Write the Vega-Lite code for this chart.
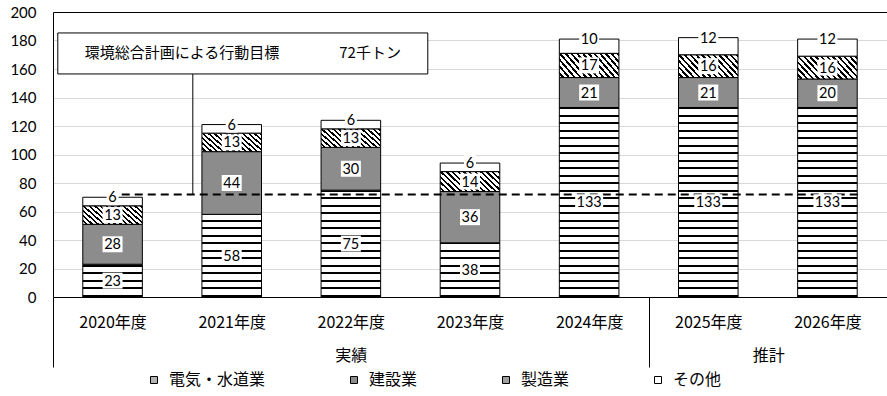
{
  "$schema": "https://vega.github.io/schema/vega-lite/v6.json",
  "width": 834,
  "height": 285,
  "autosize": "none",
  "padding": {"left": 53, "top": 12, "right": 0, "bottom": 99},
  "background": "white",
  "config": {
    "view": {"stroke": null},
    "axisX": {"labelOverlap": false},
    "axisY": {"labelOverlap": false, "domainColor": "#000", "ticks": false, "labelPadding": 17, "labelFont": "Lato", "labelFontSize": 15, "labelColor": "#000", "grid": true, "gridWidth": 1, "tickCount": 12}
  },
  "datasets": {
    "rows": [
      {"year": "2020年度", "cat": "電気・水道業", "v": 23},
      {"year": "2020年度", "cat": "建設業", "v": 28},
      {"year": "2020年度", "cat": "製造業", "v": 13},
      {"year": "2020年度", "cat": "その他", "v": 6},
      {"year": "2021年度", "cat": "電気・水道業", "v": 58},
      {"year": "2021年度", "cat": "建設業", "v": 44},
      {"year": "2021年度", "cat": "製造業", "v": 13},
      {"year": "2021年度", "cat": "その他", "v": 6},
      {"year": "2022年度", "cat": "電気・水道業", "v": 75},
      {"year": "2022年度", "cat": "建設業", "v": 30},
      {"year": "2022年度", "cat": "製造業", "v": 13},
      {"year": "2022年度", "cat": "その他", "v": 6},
      {"year": "2023年度", "cat": "電気・水道業", "v": 38},
      {"year": "2023年度", "cat": "建設業", "v": 36},
      {"year": "2023年度", "cat": "製造業", "v": 14},
      {"year": "2023年度", "cat": "その他", "v": 6},
      {"year": "2024年度", "cat": "電気・水道業", "v": 133},
      {"year": "2024年度", "cat": "建設業", "v": 21},
      {"year": "2024年度", "cat": "製造業", "v": 17},
      {"year": "2024年度", "cat": "その他", "v": 10},
      {"year": "2025年度", "cat": "電気・水道業", "v": 133},
      {"year": "2025年度", "cat": "建設業", "v": 21},
      {"year": "2025年度", "cat": "製造業", "v": 16},
      {"year": "2025年度", "cat": "その他", "v": 12},
      {"year": "2026年度", "cat": "電気・水道業", "v": 133},
      {"year": "2026年度", "cat": "建設業", "v": 20},
      {"year": "2026年度", "cat": "製造業", "v": 16},
      {"year": "2026年度", "cat": "その他", "v": 12}
    ]
  },
  "layer": [
    {
      "data": {"name": "rows"},
      "transform": [
        {"calculate": "indexof(['電気・水道業','建設業','製造業','その他'], datum.cat)", "as": "o"},
        {"stack": "v", "groupby": ["year"], "sort": [{"field": "o", "order": "ascending"}], "as": ["v0", "v1"]}
      ],
      "mark": {"type": "bar", "stroke": "#000", "strokeWidth": 1},
      "encoding": {
        "x": {
          "field": "year", "type": "nominal", "sort": null,
          "scale": {"domain": ["2020年度", "2021年度", "2022年度", "2023年度", "2024年度", "2025年度", "2026年度"], "paddingInner": 0.5, "paddingOuter": 0.25},
          "axis": {
            "title": null, "domain": true, "domainColor": "#000", "domainWidth": 1,
            "labelFont": "Noto Sans CJK JP", "labelFontSize": 16, "labelColor": "#000",
            "labelAngle": 0, "labelOverlap": false, "labelFlush": false,
            "labelExpr": "datum.label == '2022年度' ? ['2022年度','実績'] : datum.label == '2025年度' ? ['2025年度','\u200b\u3000\u3000\u3000\u3000\u3000\u3000\u3000\u2002推計'] : datum.label",
            "labelLineHeight": 33, "labelBaseline": "top", "labelPadding": -53,
            "ticks": true, "tickSize": 70, "tickColor": "#000", "tickWidth": 1, "tickOffset": -59.57, "labelOffset": 59.57,
            "tickOpacity": {"condition": {"test": "datum.value == '2020年度' || datum.value == '2025年度'", "value": 1}, "value": 0},
            "grid": false
          }
        },
        "y": {
          "field": "v1", "type": "quantitative",
          "scale": {"domain": [0, 200], "nice": false},
          "axis": {
            "title": null, "values": [0, 20, 40, 60, 80, 100, 120, 140, 160, 180, 200], "tickCount": 12,
            "domain": true, "domainColor": "#000", "domainWidth": 1, "ticks": false, "labelOverlap": false,
            "labelPadding": 17, "labelFont": "Lato", "labelFontSize": 15, "labelColor": "#000",
            "grid": true, "gridWidth": 1,
            "gridColor": {"condition": {"test": "datum.value == 200", "value": "#000"}, "value": "#d9d9d9"}
          }
        },
        "y2": {"field": "v0"},
        "fill": {
          "field": "cat", "type": "nominal",
          "scale": {"domain": ["電気・水道業", "建設業", "製造業", "その他"], "range": ["#b4b4b4", "#8c8c8c", "#a0a0a0", "#ffffff"]},
          "legend": {
            "orient": "none", "legendX": 93, "legendY": 360, "direction": "horizontal", "columns": 4,
            "columnPadding": 80, "title": null, "symbolType": "square", "symbolSize": 49,
            "symbolStrokeColor": "#000", "symbolStrokeWidth": 1, "labelFont": "Noto Sans CJK JP",
            "labelFontSize": 16, "labelColor": "#000", "labelOffset": 7, "padding": 0, "labelLimit": 200
          },
          "condition": [
            {"test": "datum.cat == '電気・水道業' && datum.v == 23", "value": {"gradient": "linear", "x1": 0, "y1": 1, "x2": 0, "y2": 0, "stops": [
              {"offset": 0, "color": "#000"}, {"offset": 0.061, "color": "#000"}, {"offset": 0.061, "color": "#fff"}, {"offset": 0.2441, "color": "#fff"},
              {"offset": 0.2441, "color": "#000"}, {"offset": 0.3051, "color": "#000"}, {"offset": 0.3051, "color": "#fff"}, {"offset": 0.4577, "color": "#fff"},
              {"offset": 0.4577, "color": "#000"}, {"offset": 0.5187, "color": "#000"}, {"offset": 0.5187, "color": "#fff"}, {"offset": 0.7018, "color": "#fff"},
              {"offset": 0.7018, "color": "#000"}, {"offset": 0.7628, "color": "#000"}, {"offset": 0.7628, "color": "#fff"}, {"offset": 0.9153, "color": "#fff"},
              {"offset": 0.9153, "color": "#000"}, {"offset": 0.9764, "color": "#000"}, {"offset": 0.9764, "color": "#fff"}, {"offset": 1, "color": "#fff"}
            ]}},
            {"test": "datum.cat == '電気・水道業' && datum.v == 38", "value": {"gradient": "linear", "x1": 0, "y1": 1, "x2": 0, "y2": 0, "stops": [
              {"offset": 0, "color": "#000"}, {"offset": 0.0369, "color": "#000"}, {"offset": 0.0369, "color": "#fff"}, {"offset": 0.1477, "color": "#fff"},
              {"offset": 0.1477, "color": "#000"}, {"offset": 0.1847, "color": "#000"}, {"offset": 0.1847, "color": "#fff"}, {"offset": 0.277, "color": "#fff"},
              {"offset": 0.277, "color": "#000"}, {"offset": 0.3139, "color": "#000"}, {"offset": 0.3139, "color": "#fff"}, {"offset": 0.4247, "color": "#fff"},
              {"offset": 0.4247, "color": "#000"}, {"offset": 0.4617, "color": "#000"}, {"offset": 0.4617, "color": "#fff"}, {"offset": 0.554, "color": "#fff"},
              {"offset": 0.554, "color": "#000"}, {"offset": 0.591, "color": "#000"}, {"offset": 0.591, "color": "#fff"}, {"offset": 0.7018, "color": "#fff"},
              {"offset": 0.7018, "color": "#000"}, {"offset": 0.7387, "color": "#000"}, {"offset": 0.7387, "color": "#fff"}, {"offset": 0.831, "color": "#fff"},
              {"offset": 0.831, "color": "#000"}, {"offset": 0.868, "color": "#000"}, {"offset": 0.868, "color": "#fff"}, {"offset": 0.9788, "color": "#fff"},
              {"offset": 0.9788, "color": "#000"}, {"offset": 1, "color": "#000"}
            ]}},
            {"test": "datum.cat == '電気・水道業' && datum.v == 58", "value": {"gradient": "linear", "x1": 0, "y1": 1, "x2": 0, "y2": 0, "stops": [
              {"offset": 0, "color": "#000"}, {"offset": 0.0242, "color": "#000"}, {"offset": 0.0242, "color": "#fff"}, {"offset": 0.0968, "color": "#fff"},
              {"offset": 0.0968, "color": "#000"}, {"offset": 0.121, "color": "#000"}, {"offset": 0.121, "color": "#fff"}, {"offset": 0.1815, "color": "#fff"},
              {"offset": 0.1815, "color": "#000"}, {"offset": 0.2057, "color": "#000"}, {"offset": 0.2057, "color": "#fff"}, {"offset": 0.2783, "color": "#fff"},
              {"offset": 0.2783, "color": "#000"}, {"offset": 0.3025, "color": "#000"}, {"offset": 0.3025, "color": "#fff"}, {"offset": 0.363, "color": "#fff"},
              {"offset": 0.363, "color": "#000"}, {"offset": 0.3872, "color": "#000"}, {"offset": 0.3872, "color": "#fff"}, {"offset": 0.4598, "color": "#fff"},
              {"offset": 0.4598, "color": "#000"}, {"offset": 0.484, "color": "#000"}, {"offset": 0.484, "color": "#fff"}, {"offset": 0.5445, "color": "#fff"},
              {"offset": 0.5445, "color": "#000"}, {"offset": 0.5687, "color": "#000"}, {"offset": 0.5687, "color": "#fff"}, {"offset": 0.6413, "color": "#fff"},
              {"offset": 0.6413, "color": "#000"}, {"offset": 0.6655, "color": "#000"}, {"offset": 0.6655, "color": "#fff"}, {"offset": 0.726, "color": "#fff"},
              {"offset": 0.726, "color": "#000"}, {"offset": 0.7502, "color": "#000"}, {"offset": 0.7502, "color": "#fff"}, {"offset": 0.8227, "color": "#fff"},
              {"offset": 0.8227, "color": "#000"}, {"offset": 0.8469, "color": "#000"}, {"offset": 0.8469, "color": "#fff"}, {"offset": 0.9074, "color": "#fff"},
              {"offset": 0.9074, "color": "#000"}, {"offset": 0.9316, "color": "#000"}, {"offset": 0.9316, "color": "#fff"}, {"offset": 1, "color": "#fff"}
            ]}},
            {"test": "datum.cat == '電気・水道業' && datum.v == 75", "value": {"gradient": "linear", "x1": 0, "y1": 1, "x2": 0, "y2": 0, "stops": [
              {"offset": 0, "color": "#000"}, {"offset": 0.0187, "color": "#000"}, {"offset": 0.0187, "color": "#fff"}, {"offset": 0.0749, "color": "#fff"},
              {"offset": 0.0749, "color": "#000"}, {"offset": 0.0936, "color": "#000"}, {"offset": 0.0936, "color": "#fff"}, {"offset": 0.1404, "color": "#fff"},
              {"offset": 0.1404, "color": "#000"}, {"offset": 0.1591, "color": "#000"}, {"offset": 0.1591, "color": "#fff"}, {"offset": 0.2152, "color": "#fff"},
              {"offset": 0.2152, "color": "#000"}, {"offset": 0.2339, "color": "#000"}, {"offset": 0.2339, "color": "#fff"}, {"offset": 0.2807, "color": "#fff"},
              {"offset": 0.2807, "color": "#000"}, {"offset": 0.2994, "color": "#000"}, {"offset": 0.2994, "color": "#fff"}, {"offset": 0.3556, "color": "#fff"},
              {"offset": 0.3556, "color": "#000"}, {"offset": 0.3743, "color": "#000"}, {"offset": 0.3743, "color": "#fff"}, {"offset": 0.4211, "color": "#fff"},
              {"offset": 0.4211, "color": "#000"}, {"offset": 0.4398, "color": "#000"}, {"offset": 0.4398, "color": "#fff"}, {"offset": 0.4959, "color": "#fff"},
              {"offset": 0.4959, "color": "#000"}, {"offset": 0.5146, "color": "#000"}, {"offset": 0.5146, "color": "#fff"}, {"offset": 0.5614, "color": "#fff"},
              {"offset": 0.5614, "color": "#000"}, {"offset": 0.5801, "color": "#000"}, {"offset": 0.5801, "color": "#fff"}, {"offset": 0.6363, "color": "#fff"},
              {"offset": 0.6363, "color": "#000"}, {"offset": 0.655, "color": "#000"}, {"offset": 0.655, "color": "#fff"}, {"offset": 0.7018, "color": "#fff"},
              {"offset": 0.7018, "color": "#000"}, {"offset": 0.7205, "color": "#000"}, {"offset": 0.7205, "color": "#fff"}, {"offset": 0.7766, "color": "#fff"},
              {"offset": 0.7766, "color": "#000"}, {"offset": 0.7953, "color": "#000"}, {"offset": 0.7953, "color": "#fff"}, {"offset": 0.8421, "color": "#fff"},
              {"offset": 0.8421, "color": "#000"}, {"offset": 0.8608, "color": "#000"}, {"offset": 0.8608, "color": "#fff"}, {"offset": 0.917, "color": "#fff"},
              {"offset": 0.917, "color": "#000"}, {"offset": 0.9357, "color": "#000"}, {"offset": 0.9357, "color": "#fff"}, {"offset": 0.9825, "color": "#fff"},
              {"offset": 0.9825, "color": "#000"}, {"offset": 1, "color": "#000"}
            ]}},
            {"test": "datum.cat == '電気・水道業' && datum.v == 133", "value": {"gradient": "linear", "x1": 0, "y1": 1, "x2": 0, "y2": 0, "stops": [
              {"offset": 0, "color": "#000"}, {"offset": 0.0106, "color": "#000"}, {"offset": 0.0106, "color": "#fff"}, {"offset": 0.0422, "color": "#fff"},
              {"offset": 0.0422, "color": "#000"}, {"offset": 0.0528, "color": "#000"}, {"offset": 0.0528, "color": "#fff"}, {"offset": 0.0791, "color": "#fff"},
              {"offset": 0.0791, "color": "#000"}, {"offset": 0.0897, "color": "#000"}, {"offset": 0.0897, "color": "#fff"}, {"offset": 0.1214, "color": "#fff"},
              {"offset": 0.1214, "color": "#000"}, {"offset": 0.1319, "color": "#000"}, {"offset": 0.1319, "color": "#fff"}, {"offset": 0.1583, "color": "#fff"},
              {"offset": 0.1583, "color": "#000"}, {"offset": 0.1688, "color": "#000"}, {"offset": 0.1688, "color": "#fff"}, {"offset": 0.2005, "color": "#fff"},
              {"offset": 0.2005, "color": "#000"}, {"offset": 0.2111, "color": "#000"}, {"offset": 0.2111, "color": "#fff"}, {"offset": 0.2374, "color": "#fff"},
              {"offset": 0.2374, "color": "#000"}, {"offset": 0.248, "color": "#000"}, {"offset": 0.248, "color": "#fff"}, {"offset": 0.2796, "color": "#fff"},
              {"offset": 0.2796, "color": "#000"}, {"offset": 0.2902, "color": "#000"}, {"offset": 0.2902, "color": "#fff"}, {"offset": 0.3166, "color": "#fff"},
              {"offset": 0.3166, "color": "#000"}, {"offset": 0.3271, "color": "#000"}, {"offset": 0.3271, "color": "#fff"}, {"offset": 0.3588, "color": "#fff"},
              {"offset": 0.3588, "color": "#000"}, {"offset": 0.3693, "color": "#000"}, {"offset": 0.3693, "color": "#fff"}, {"offset": 0.3957, "color": "#fff"},
              {"offset": 0.3957, "color": "#000"}, {"offset": 0.4063, "color": "#000"}, {"offset": 0.4063, "color": "#fff"}, {"offset": 0.4379, "color": "#fff"},
              {"offset": 0.4379, "color": "#000"}, {"offset": 0.4485, "color": "#000"}, {"offset": 0.4485, "color": "#fff"}, {"offset": 0.4749, "color": "#fff"},
              {"offset": 0.4749, "color": "#000"}, {"offset": 0.4854, "color": "#000"}, {"offset": 0.4854, "color": "#fff"}, {"offset": 0.5171, "color": "#fff"},
              {"offset": 0.5171, "color": "#000"}, {"offset": 0.5276, "color": "#000"}, {"offset": 0.5276, "color": "#fff"}, {"offset": 0.554, "color": "#fff"},
              {"offset": 0.554, "color": "#000"}, {"offset": 0.5646, "color": "#000"}, {"offset": 0.5646, "color": "#fff"}, {"offset": 0.5962, "color": "#fff"},
              {"offset": 0.5962, "color": "#000"}, {"offset": 0.6068, "color": "#000"}, {"offset": 0.6068, "color": "#fff"}, {"offset": 0.6332, "color": "#fff"},
              {"offset": 0.6332, "color": "#000"}, {"offset": 0.6437, "color": "#000"}, {"offset": 0.6437, "color": "#fff"}, {"offset": 0.6754, "color": "#fff"},
              {"offset": 0.6754, "color": "#000"}, {"offset": 0.6859, "color": "#000"}, {"offset": 0.6859, "color": "#fff"}, {"offset": 0.7123, "color": "#fff"},
              {"offset": 0.7123, "color": "#000"}, {"offset": 0.7229, "color": "#000"}, {"offset": 0.7229, "color": "#fff"}, {"offset": 0.7545, "color": "#fff"},
              {"offset": 0.7545, "color": "#000"}, {"offset": 0.7651, "color": "#000"}, {"offset": 0.7651, "color": "#fff"}, {"offset": 0.7915, "color": "#fff"},
              {"offset": 0.7915, "color": "#000"}, {"offset": 0.802, "color": "#000"}, {"offset": 0.802, "color": "#fff"}, {"offset": 0.8337, "color": "#fff"},
              {"offset": 0.8337, "color": "#000"}, {"offset": 0.8442, "color": "#000"}, {"offset": 0.8442, "color": "#fff"}, {"offset": 0.8706, "color": "#fff"},
              {"offset": 0.8706, "color": "#000"}, {"offset": 0.8811, "color": "#000"}, {"offset": 0.8811, "color": "#fff"}, {"offset": 0.9128, "color": "#fff"},
              {"offset": 0.9128, "color": "#000"}, {"offset": 0.9234, "color": "#000"}, {"offset": 0.9234, "color": "#fff"}, {"offset": 0.9497, "color": "#fff"},
              {"offset": 0.9497, "color": "#000"}, {"offset": 0.9603, "color": "#000"}, {"offset": 0.9603, "color": "#fff"}, {"offset": 0.992, "color": "#fff"},
              {"offset": 0.992, "color": "#000"}, {"offset": 1, "color": "#000"}
            ]}},
            {"test": "datum.cat == '製造業'", "value": {"gradient": "linear", "x1": 0, "y1": 1, "x2": 1.2, "y2": 0.58, "stops": [
              {"offset": 0, "color": "#fff"}, {"offset": 0.0357, "color": "#fff"}, {"offset": 0.0357, "color": "#000"}, {"offset": 0.0657, "color": "#000"},
              {"offset": 0.0657, "color": "#fff"}, {"offset": 0.1071, "color": "#fff"}, {"offset": 0.1071, "color": "#000"}, {"offset": 0.1371, "color": "#000"},
              {"offset": 0.1371, "color": "#fff"}, {"offset": 0.1786, "color": "#fff"}, {"offset": 0.1786, "color": "#000"}, {"offset": 0.2086, "color": "#000"},
              {"offset": 0.2086, "color": "#fff"}, {"offset": 0.25, "color": "#fff"}, {"offset": 0.25, "color": "#000"}, {"offset": 0.28, "color": "#000"},
              {"offset": 0.28, "color": "#fff"}, {"offset": 0.3214, "color": "#fff"}, {"offset": 0.3214, "color": "#000"}, {"offset": 0.3514, "color": "#000"},
              {"offset": 0.3514, "color": "#fff"}, {"offset": 0.3929, "color": "#fff"}, {"offset": 0.3929, "color": "#000"}, {"offset": 0.4229, "color": "#000"},
              {"offset": 0.4229, "color": "#fff"}, {"offset": 0.4643, "color": "#fff"}, {"offset": 0.4643, "color": "#000"}, {"offset": 0.4943, "color": "#000"},
              {"offset": 0.4943, "color": "#fff"}, {"offset": 0.5357, "color": "#fff"}, {"offset": 0.5357, "color": "#000"}, {"offset": 0.5657, "color": "#000"},
              {"offset": 0.5657, "color": "#fff"}, {"offset": 0.6071, "color": "#fff"}, {"offset": 0.6071, "color": "#000"}, {"offset": 0.6371, "color": "#000"},
              {"offset": 0.6371, "color": "#fff"}, {"offset": 0.6786, "color": "#fff"}, {"offset": 0.6786, "color": "#000"}, {"offset": 0.7086, "color": "#000"},
              {"offset": 0.7086, "color": "#fff"}, {"offset": 0.75, "color": "#fff"}, {"offset": 0.75, "color": "#000"}, {"offset": 0.78, "color": "#000"},
              {"offset": 0.78, "color": "#fff"}, {"offset": 0.8214, "color": "#fff"}, {"offset": 0.8214, "color": "#000"}, {"offset": 0.8514, "color": "#000"},
              {"offset": 0.8514, "color": "#fff"}, {"offset": 0.8929, "color": "#fff"}, {"offset": 0.8929, "color": "#000"}, {"offset": 0.9229, "color": "#000"},
              {"offset": 0.9229, "color": "#fff"}, {"offset": 0.9643, "color": "#fff"}, {"offset": 0.9643, "color": "#000"}, {"offset": 0.9943, "color": "#000"},
              {"offset": 0.9943, "color": "#fff"}, {"offset": 1, "color": "#fff"}
            ]}}
          ]
        }
      }
    },
    {
      "data": {"values": [{}]},
      "mark": {"type": "point", "shape": "M0,0H740", "size": 4, "filled": false, "stroke": "#000", "strokeWidth": 2, "strokeDash": [8, 5], "opacity": 1},
      "encoding": {
        "x": {"datum": "2020年度", "bandPosition": 0.654},
        "y": {"datum": 72, "type": "quantitative", "axis": {"title": null, "tickCount": 12, "values": [0, 20, 40, 60, 80, 100, 120, 140, 160, 180, 200]}}
      }
    },
    {
      "data": {"values": [{}]},
      "mark": {"type": "rule", "color": "#000", "strokeWidth": 1},
      "encoding": {
        "x": {"datum": "2021年度", "bandPosition": -0.153},
        "y": {"datum": 156.5, "type": "quantitative", "axis": {"title": null, "tickCount": 12, "values": [0, 20, 40, 60, 80, 100, 120, 140, 160, 180, 200]}},
        "y2": {"datum": 72}
      }
    },
    {
      "data": {"values": [{}]},
      "mark": {"type": "point", "shape": "M-185,-20.5H185V20.5H-185Z", "size": 4, "filled": true, "fill": "#fff", "stroke": "#000", "strokeWidth": 1, "opacity": 1},
      "encoding": {
        "x": {"datum": "2021年度", "bandPosition": 0.686},
        "y": {"datum": 170.9, "type": "quantitative", "axis": {"title": null, "tickCount": 12, "values": [0, 20, 40, 60, 80, 100, 120, 140, 160, 180, 200]}}
      }
    },
    {
      "data": {"values": [{"t": "環境総合計画による行動目標\u3000\u3000\u3000\u300072千トン"}]},
      "mark": {"type": "text", "font": "Noto Sans CJK JP", "fontSize": 15, "color": "#000", "align": "center", "baseline": "middle"},
      "encoding": {
        "x": {"datum": "2021年度", "bandPosition": 0.686},
        "y": {"datum": 170.9, "type": "quantitative", "axis": {"title": null, "tickCount": 12, "values": [0, 20, 40, 60, 80, 100, 120, 140, 160, 180, 200]}},
        "text": {"field": "t"}
      }
    },
    {
      "data": {"name": "rows"},
      "transform": [
        {"calculate": "indexof(['電気・水道業','建設業','製造業','その他'], datum.cat)", "as": "o"},
        {"stack": "v", "groupby": ["year"], "sort": [{"field": "o", "order": "ascending"}], "as": ["v0", "v1"]},
        {"calculate": "datum.cat == 'その他' ? datum.v1 : (datum.v0 + datum.v1) / 2", "as": "pos"}
      ],
      "mark": {"type": "point", "filled": true, "fill": "#fff", "stroke": "#fff", "strokeOpacity": 0, "strokeWidth": 0, "opacity": 1, "size": 4},
      "encoding": {
        "x": {"field": "year", "type": "nominal", "sort": null},
        "y": {"field": "pos", "type": "quantitative", "axis": {"title": null, "tickCount": 12, "values": [0, 20, 40, 60, 80, 100, 120, 140, 160, 180, 200]}},
        "shape": {"condition": [{"test": "datum.v >= 100", "value": "M-14,-8H14V8H-14Z"}, {"test": "datum.v >= 10", "value": "M-10,-8H10V8H-10Z"}], "value": "M-6,-8H6V8H-6Z"}
      }
    },
    {
      "data": {"name": "rows"},
      "transform": [
        {"calculate": "indexof(['電気・水道業','建設業','製造業','その他'], datum.cat)", "as": "o"},
        {"stack": "v", "groupby": ["year"], "sort": [{"field": "o", "order": "ascending"}], "as": ["v0", "v1"]},
        {"calculate": "datum.cat == 'その他' ? datum.v1 : (datum.v0 + datum.v1) / 2", "as": "pos"}
      ],
      "mark": {"type": "text", "font": "Lato", "fontSize": 14.5, "color": "#000", "align": "center", "baseline": "middle", "dy": 1},
      "encoding": {
        "x": {"field": "year", "type": "nominal", "sort": null},
        "y": {"field": "pos", "type": "quantitative", "axis": {"title": null, "tickCount": 12, "values": [0, 20, 40, 60, 80, 100, 120, 140, 160, 180, 200]}},
        "text": {"field": "v", "type": "quantitative"}
      }
    }
  ]
}
